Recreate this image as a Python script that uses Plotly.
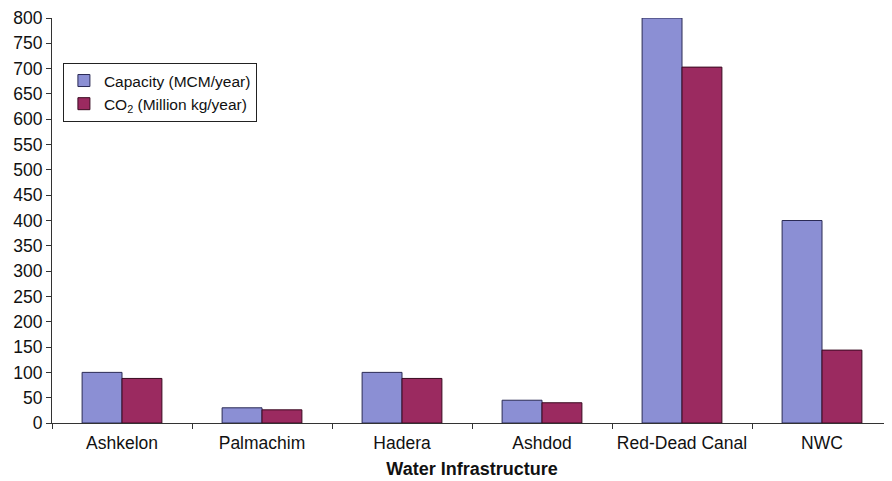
import plotly.graph_objects as go

categories = ["Ashkelon", "Palmachim", "Hadera", "Ashdod", "Red-Dead Canal", "NWC"]
capacity = [100, 30, 100, 45, 800, 400]
co2 = [88, 26, 88, 40, 703, 144]
y_ticks = list(range(0, 801, 50))

fig = go.Figure()
fig.add_trace(go.Bar(
    x=categories, y=capacity, name="Capacity (MCM/year)",
    marker=dict(color="#8b8fd4", line=dict(color="#2a2a55", width=1)),
))
fig.add_trace(go.Bar(
    x=categories, y=co2, name="CO<sub>2</sub> (Million kg/year)",
    marker=dict(color="#9b2a60", line=dict(color="#3a0a20", width=1)),
))

fig.update_layout(
    width=884, height=473,
    margin=dict(l=44, r=0, t=10, b=58, autoexpand=False),
    paper_bgcolor="white", plot_bgcolor="white",
    barmode="group", bargap=0.43, bargroupgap=0,
    font=dict(family="Liberation Sans, Arial, sans-serif", color="#111111"),
    showlegend=True,
    legend=dict(
        x=0.013, y=0.889, xanchor="left", yanchor="top",
        bordercolor="#222222", borderwidth=1, bgcolor="white",
        font=dict(size=15.5), tracegroupgap=0, itemwidth=30,
    ),
    xaxis=dict(
        showline=True, linecolor="#333333", linewidth=1,
        tickson="boundaries", ticks="outside", ticklen=5, tickcolor="#333333",
        tickfont=dict(size=17.5), ticklabelstandoff=4,
        title=dict(text="<b>Water Infrastructure</b>", font=dict(size=18), standoff=10),
    ),
    yaxis=dict(
        range=[0, 800], tickvals=y_ticks,
        showline=True, linecolor="#333333", linewidth=1,
        ticks="outside", ticklen=5, tickcolor="#333333",
        showgrid=False, zeroline=False,
        tickfont=dict(size=17.5),
    ),
)

fig.write_html("out.html")
